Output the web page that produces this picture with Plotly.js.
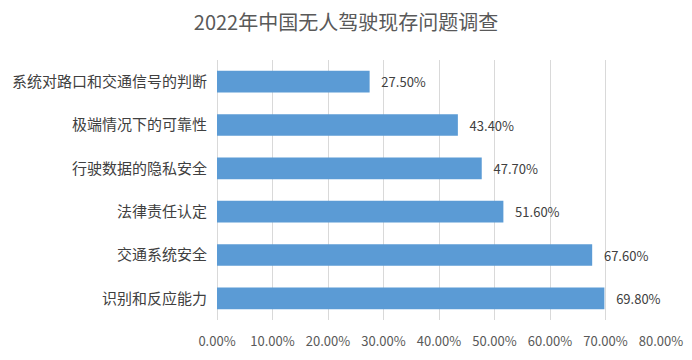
<!DOCTYPE html>
<html>
<head>
<meta charset="utf-8">
<script src="https://cdn.plot.ly/plotly-3.0.1.min.js"></script>
<style>html,body{margin:0;padding:0;background:#fff;}#chart{width:692px;height:360px;}</style>
</head>
<body>
<div id="chart"></div>
<script>
const categories = ["识别和反应能力", "交通系统安全", "法律责任认定", "行驶数据的隐私安全", "极端情况下的可靠性", "系统对路口和交通信号的判断"];
const values = [0.698, 0.676, 0.516, 0.477, 0.434, 0.275];
const tickVals = [0, 0.1, 0.2, 0.3, 0.4, 0.5, 0.6, 0.7, 0.8];

const font = "'Noto Sans CJK SC', 'Noto Sans', sans-serif";
Plotly.newPlot('chart', [{
  type: 'bar',
  orientation: 'h',
  y: categories,
  x: values,
  width: 0.5,
  marker: {color: '#5b9bd5'},
  text: values.map(v => (v * 100).toFixed(2) + '%'),
  texttemplate: '   %{text}',
  textposition: 'outside',
  cliponaxis: false,
  textfont: {family: font, size: 13, color: '#404040'},
  hoverinfo: 'none'
}], {
  width: 692, height: 360,
  margin: {l: 217, r: 31, t: 60, b: 40},
  paper_bgcolor: '#fff', plot_bgcolor: '#fff',
  title: {text: '2022年中国无人驾驶现存问题调查', x: 0.5, xanchor: 'center', y: 0.935, yanchor: 'middle',
          font: {family: font, size: 20, color: '#595959'}},
  xaxis: {range: [0, 0.8], tickvals: tickVals, tickformat: '.2%', showgrid: true, gridcolor: '#d9d9d9',
          zeroline: true, zerolinecolor: '#d9d9d9', showline: false, ticks: '', ticklabelstandoff: 12,
          tickfont: {family: font, size: 13, color: '#595959'}, fixedrange: true},
  yaxis: {showgrid: false, showline: false, ticks: '', ticklabelstandoff: 9,
          tickfont: {family: font, size: 15, color: '#404040'}, fixedrange: true},
  showlegend: false,
  bargap: 0.5
}, {displayModeBar: false, staticPlot: true});
</script>
</body>
</html>
